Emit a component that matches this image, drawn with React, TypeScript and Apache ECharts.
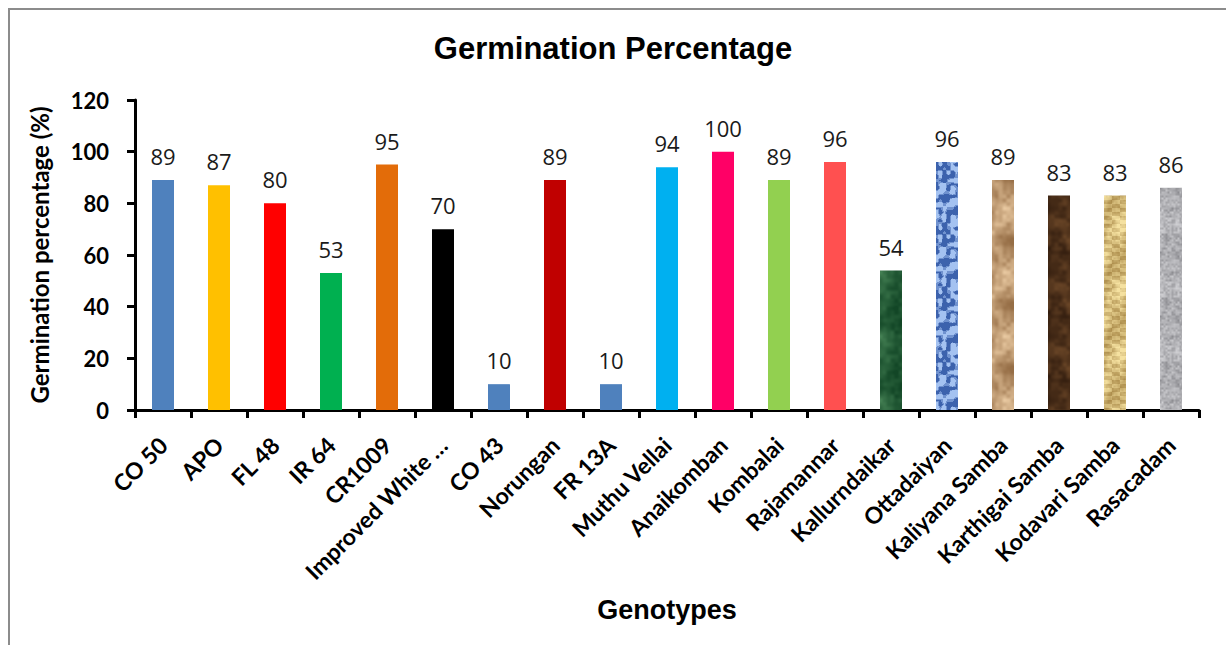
import React, { useEffect, useRef } from "react";
import * as echarts from "echarts";

const categories = [
  "CO 50", "APO", "FL 48", "IR 64", "CR1009", "Improved White …", "CO 43", "Norungan",
  "FR 13A", "Muthu Vellai", "Anaikomban", "Kombalai", "Rajamannar", "Kallurndaikar",
  "Ottadaiyan", "Kaliyana Samba", "Karthigai Samba", "Kodavari Samba", "Rasacadam",
];
const germination = [89, 87, 80, 53, 95, 70, 10, 89, 10, 94, 100, 89, 96, 54, 96, 89, 83, 83, 86];
const solidColors: (string | null)[] = [
  "#4F81BD", "#FFC000", "#FF0000", "#00B050", "#E36C09", "#000000", "#4F81BD", "#C00000",
  "#4F81BD", "#00B0F0", "#FF0066", "#92D050", "#FF5050", null, null, null, null, null, null,
];
const yTicks = [0, 20, 40, 60, 80, 100, 120];

// texture definitions for the picture-filled bars: [dark, light, kind, seed]
const textureDefs: Record<number, [number[], number[], string, number]> = {
  13: [[18, 70, 38], [70, 130, 85], "marble", 3],
  14: [[40, 80, 160], [170, 200, 245], "spots", 7],
  15: [[150, 110, 70], [232, 200, 160], "paper", 11],
  16: [[45, 25, 12], [120, 80, 45], "marble", 17],
  17: [[150, 115, 50], [245, 225, 160], "woven", 23],
  18: [[120, 120, 125], [235, 235, 238], "granite", 29],
};

const T = 64;
function hash(x: number, y: number, s: number) {
  const v = Math.sin(x * 127.1 + y * 311.7 + s * 74.7) * 43758.5453;
  return v - Math.floor(v);
}
function vnoise(x: number, y: number, cell: number, seed: number) {
  const n = T / cell;
  const gx = Math.floor(x / cell), gy = Math.floor(y / cell);
  const fx = x / cell - gx, fy = y / cell - gy;
  const sx = fx * fx * (3 - 2 * fx), sy = fy * fy * (3 - 2 * fy);
  const m = (v: number) => ((v % n) + n) % n;
  const a = hash(m(gx), m(gy), seed), b = hash(m(gx + 1), m(gy), seed);
  const c = hash(m(gx), m(gy + 1), seed), d = hash(m(gx + 1), m(gy + 1), seed);
  return a + (b - a) * sx + (c - a) * sy + (a - b - c + d) * sx * sy;
}
function fbm(x: number, y: number, seed: number) {
  return 0.5 * vnoise(x, y, 16, seed) + 0.3 * vnoise(x, y, 8, seed + 1) + 0.2 * vnoise(x, y, 4, seed + 2);
}
function makeTexture(dark: number[], light: number[], kind: string, seed: number) {
  const cv = document.createElement("canvas");
  cv.width = T;
  cv.height = T;
  const ctx = cv.getContext("2d")!;
  const img = ctx.createImageData(T, T);
  for (let y = 0; y < T; y++) {
    for (let x = 0; x < T; x++) {
      let t = fbm(x, y, seed);
      if (kind === "spots") {
        const s = vnoise(x, y, 4, seed + 5);
        t = s > 0.55 ? 0.15 : s > 0.4 ? 0.55 : 0.95;
      } else if (kind === "granite") {
        const s = vnoise(x, y, 2, seed + 5);
        t = 0.6 * t + 0.4 * s;
      } else if (kind === "woven") {
        const stripe = (Math.floor(y / 4) % 2 === 0) !== (Math.floor(x / 8) % 2 === 0) ? 0.25 : 0;
        t = Math.min(1, Math.max(0, t + stripe - 0.1 + 0.2 * vnoise(x, y, 2, seed + 3)));
      } else if (kind === "paper") {
        t = Math.min(1, Math.max(0, (t - 0.5) * 1.8 + 0.55));
      } else {
        t = Math.min(1, Math.max(0, (t - 0.5) * 1.6 + 0.45));
      }
      const i = (y * T + x) * 4;
      for (let k = 0; k < 3; k++) img.data[i + k] = Math.round(dark[k] + (light[k] - dark[k]) * t);
      img.data[i + 3] = 255;
    }
  }
  ctx.putImageData(img, 0, 0);
  return cv;
}

export default function App() {
  const ref = useRef<HTMLDivElement>(null);
  useEffect(() => {
    if (!ref.current) return;
    const chart = echarts.init(ref.current, undefined, { renderer: "svg" });
    const data = germination.map((v, i) => {
      const solid = solidColors[i];
      let color: any = solid;
      if (!solid) {
        const d = textureDefs[i];
        color = { image: makeTexture(d[0], d[1], d[2], d[3]), repeat: "repeat" };
      }
      return { value: v, itemStyle: { color } };
    });
    const calibri = "Lato, 'Open Sans', sans-serif";
    const arial = "'Liberation Sans', Arial, sans-serif";
    chart.setOption({
      animation: false,
      backgroundColor: "#ffffff",
      title: {
        text: "Germination Percentage",
        left: "center",
        top: 28,
        textStyle: { fontFamily: arial, fontWeight: "bold", fontSize: 31, color: "#000" },
      },
      graphic: [
        {
          type: "rect",
          shape: { x: 9, y: 9, width: 1400, height: 800 },
          style: { fill: "none", stroke: "#8c8c8c", lineWidth: 2 },
          silent: true,
        },
      ],
      grid: { left: 135, right: 27, top: 100, bottom: 235, containLabel: false },
      xAxis: {
        type: "category",
        data: categories,
        name: "Genotypes",
        nameLocation: "middle",
        nameGap: 186,
        nameTextStyle: { fontFamily: arial, fontWeight: "bold", fontSize: 27, color: "#000" },
        axisLine: { lineStyle: { color: "#000", width: 3 } },
        axisTick: { show: true, length: 8, lineStyle: { color: "#000", width: 3 } },
        axisLabel: {
          interval: 0,
          rotate: 45,
          margin: 31,
          fontFamily: calibri,
          fontWeight: "bold",
          fontSize: 23,
          color: "#000",
        },
      },
      yAxis: {
        type: "value",
        min: 0,
        max: 120,
        interval: 20,
        name: "Germination percentage (%)",
        nameLocation: "middle",
        nameGap: 84,
        nameTextStyle: { fontFamily: calibri, fontWeight: "bold", fontSize: 24, color: "#000" },
        axisLine: { show: true, lineStyle: { color: "#000", width: 3 } },
        axisTick: { show: true, length: 8, lineStyle: { color: "#000", width: 3 } },
        splitLine: { show: false },
        axisLabel: {
          margin: 26,
          fontFamily: calibri,
          fontWeight: "bold",
          fontSize: 22,
          color: "#000",
          formatter: (v: number) => (yTicks.includes(v) ? String(v) : ""),
        },
      },
      series: [
        {
          type: "bar",
          data,
          barWidth: 22,
          label: {
            show: true,
            position: "top",
            distance: 13,
            fontFamily: "'Open Sans', Lato, sans-serif",
            fontWeight: "normal",
            fontSize: 22,
            color: "#1a1a1a",
          },
        },
      ],
    });
    return () => chart.dispose();
  }, []);
  return <div ref={ref} style={{ position: "absolute", left: 0, top: 0, width: 1226, height: 645 }} />;
}
